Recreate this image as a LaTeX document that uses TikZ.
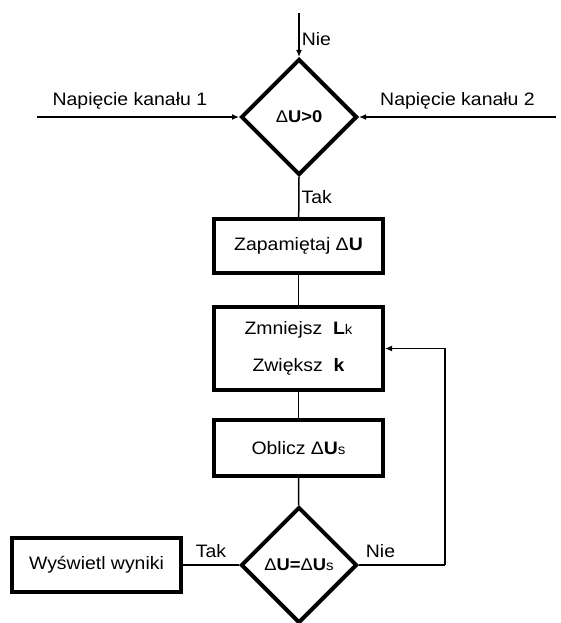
\documentclass[tikz,border=0pt]{standalone}
\usepackage{fontspec}
\setmainfont{Liberation Sans}[FakeStretch=1.08]
\usepackage{tikz}
\usetikzlibrary{shapes.geometric,arrows.meta,positioning}

\newcommand{\lab}{\fontsize{18}{20}\selectfont}
\newcommand{\sm}[1]{{\fontsize{14}{14}\selectfont\mdseries #1}}
\newcommand{\dlt}{{\mdseries Δ}}

\begin{document}
\begin{tikzpicture}[
  x=1pt, y=-1pt,
  box/.style={rectangle, draw, line width=4pt, minimum width=169pt,
              minimum height=#1, font=\lab, align=center, inner sep=2pt},
  box/.default={54pt},
  decision/.style={diamond, draw, line width=4pt, aspect=1,
                   minimum size=116pt, inner sep=0pt,
                   font=\fontsize{17}{19}\selectfont\bfseries},
  link/.style={line width=1.5pt},
  arrow/.style={link, -{Latex[length=7pt,width=6pt]}},
  note/.style={font=\lab, inner sep=2pt}
]
  \useasboundingbox (0,0) rectangle (560,623);

  \node[decision] (diff) at (299,117) {\dlt U>0};
  \node[box] (store) at (298.5,246) {Zapamiętaj \dlt\textbf{U}};
  \node[box=83pt, font=\fontsize{18}{37}\selectfont] (step) at (298.5,348.5)
    {Zmniejsz\ \ \textbf{L}\sm{k}\\Zwiększ\ \ \textbf{k}};
  \node[box=56pt] (calc) at (298.5,448) {Oblicz \dlt\textbf{U}\sm{s}};
  \node[decision] (equal) at (299,565) {\dlt U=\dlt U\sm{s}};
  \node[box] (show) at (96.5,565) {Wyświetl wyniki};

  \coordinate (top) at (299,13);
  \coordinate (in1) at (37,117);
  \coordinate (in2) at (556,117);
  \coordinate (back) at (445,565);

  % Arrows
  \draw[arrow] (top) -- node[note, right, pos=0.6]{Nie} (diff.north);
  \draw[arrow] (in1) -- node[note, above=5pt, pos=0.46]{Napięcie kanału 1} (diff.west);
  \draw[arrow] (in2) -- node[note, above=5pt, pos=0.5]{Napięcie kanału 2} (diff.east);
  \draw[link] (diff.south) -- node[note, right, pos=0.5]{Tak} (store);
  \draw[link] (store) -- (step);
  \draw[link] (step) -- (calc);
  \draw[link] (calc) -- (equal);
  \draw[link] (equal.west) -- node[note, above=5pt]{Tak} (show);
  \draw[link] (equal.east) -- node[note, above=5pt, pos=0.25]{Nie} (back);
  \draw[arrow] (back) |- (step.east);
\end{tikzpicture}
\end{document}
